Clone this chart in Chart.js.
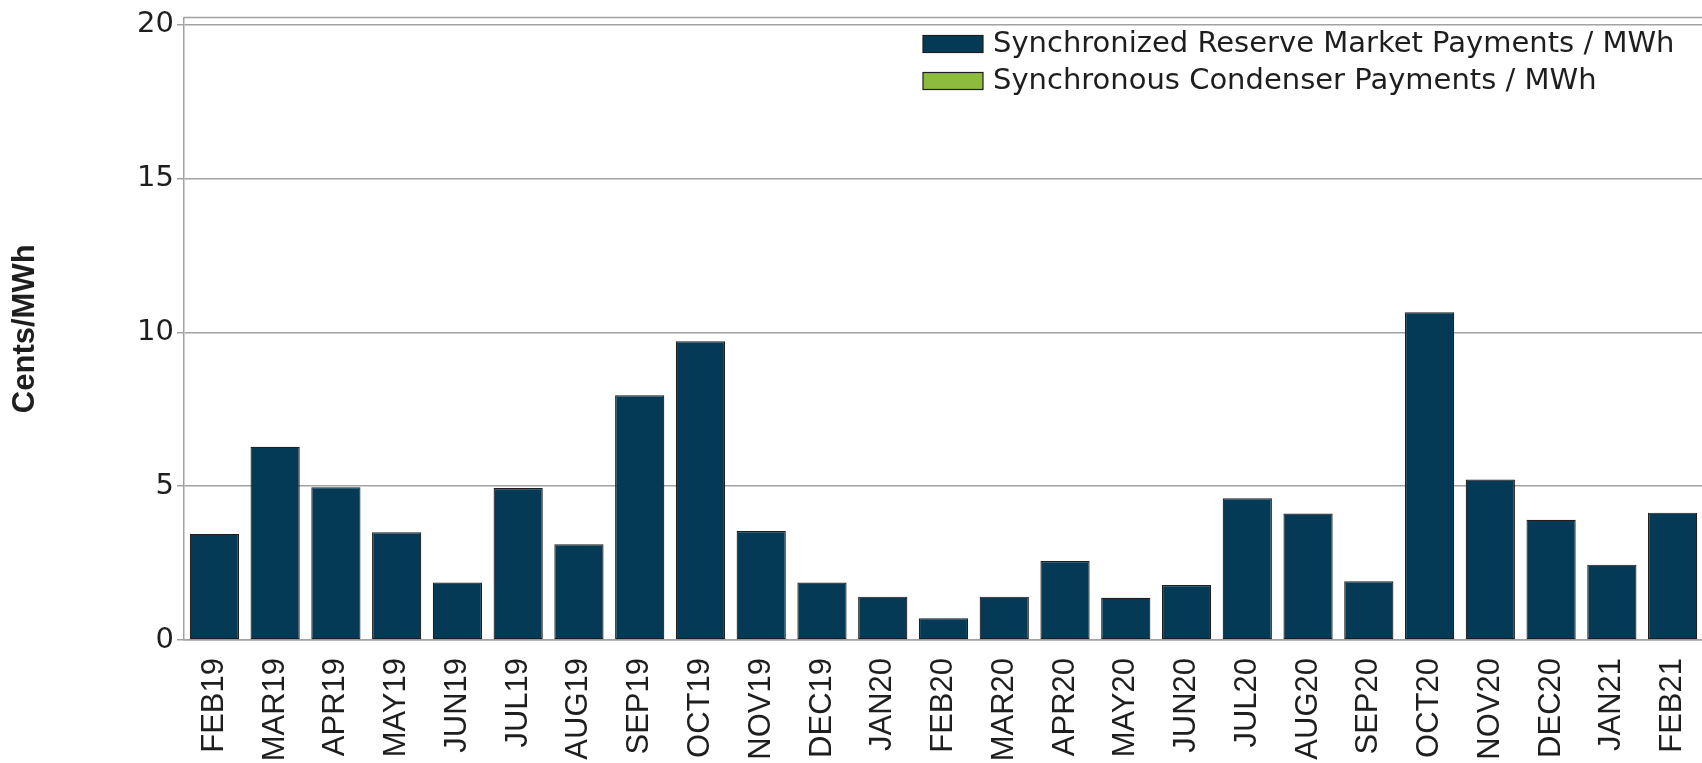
<!DOCTYPE html>
<html>
<head>
<meta charset="utf-8">
<title>Synchronized Reserve Payments per MWh</title>
<script src="https://cdn.jsdelivr.net/npm/chart.js@4.4.1/dist/chart.umd.min.js"></script>
<style>
  html, body { margin: 0; padding: 0; background: #ffffff; overflow: hidden; }
  #wrap { position: relative; width: 1704px; height: 763px; }
</style>
</head>
<body>
<div id="wrap"><canvas id="chart"></canvas></div>
<script>
// Monthly categories
const months = [
  'FEB19','MAR19','APR19','MAY19','JUN19','JUL19','AUG19','SEP19','OCT19','NOV19',
  'DEC19','JAN20','FEB20','MAR20','APR20','MAY20','JUN20','JUL20','AUG20','SEP20',
  'OCT20','NOV20','DEC20','JAN21','FEB21'
];

// Cents per MWh
const reserveMarketPayments = [
  3.45, 6.28, 4.97, 3.50, 1.87, 4.94, 3.11, 7.96, 9.71, 3.54,
  1.87, 1.41, 0.71, 1.41, 2.57, 1.37, 1.79, 4.61, 4.11, 1.91,
  10.66, 5.22, 3.91, 2.45, 4.14
];
const condenserPayments = [
  0, 0, 0, 0, 0, 0, 0, 0, 0, 0,
  0, 0, 0, 0, 0, 0, 0, 0, 0, 0,
  0, 0, 0, 0, 0
];

const yTicks = [0, 5, 10, 15, 20];
const seriesNames = ['Synchronized Reserve Market Payments / MWh', 'Synchronous Condenser Payments / MWh'];
const yTitle = 'Cents/MWh';

const GRID = '#a2a2a2';
const INK = '#1e1e1e';
const NAVY = '#053a56';
const GREEN = '#8dbb3e';

// Frame around the plot area (top edge; left and bottom come from the axes)
const framePlugin = {
  id: 'frame',
  beforeDatasetsDraw(chart) {
    const { ctx, chartArea: a } = chart;
    ctx.save();
    ctx.strokeStyle = GRID;
    ctx.lineWidth = 1.5;
    ctx.beginPath();
    ctx.moveTo(a.left, a.top);
    ctx.lineTo(a.right, a.top);
    ctx.stroke();
    ctx.restore();
  }
};

// Legend stacked in the upper right of the plot area
const boxLegendPlugin = {
  id: 'boxLegend',
  afterDraw(chart) {
    const { ctx, chartArea: a } = chart;
    const x0 = a.left + 739;
    const y0 = a.top + 26.5;
    const rowGap = 37;
    ctx.save();
    ctx.font = '29px "DejaVu Sans"';
    ctx.textBaseline = 'middle';
    ctx.textAlign = 'left';
    chart.data.datasets.forEach((ds, i) => {
      const cy = y0 + i * rowGap;
      ctx.fillStyle = ds.backgroundColor;
      ctx.fillRect(x0, cy - 8.5, 60, 17);
      ctx.strokeStyle = INK;
      ctx.lineWidth = 1.2;
      ctx.strokeRect(x0, cy - 8.5, 60, 17);
      ctx.fillStyle = INK;
      ctx.fillText(ds.label, x0 + 70, cy);
    });
    ctx.restore();
  }
};

new Chart(document.getElementById('chart'), {
  type: 'bar',
  data: {
    labels: months,
    datasets: [
      {
        label: seriesNames[0],
        data: reserveMarketPayments,
        backgroundColor: NAVY,
        borderColor: INK,
        borderWidth: 1.2,
        borderSkipped: false,
        barPercentage: 0.81,
        categoryPercentage: 1.0
      },
      {
        label: seriesNames[1],
        data: condenserPayments,
        backgroundColor: GREEN,
        borderColor: INK,
        borderWidth: 0,
        barPercentage: 0.81,
        categoryPercentage: 1.0
      }
    ]
  },
  options: {
    responsive: true,
    maintainAspectRatio: false,
    animation: false,
    layout: { padding: { top: 15, right: 1, bottom: 0, left: 0 } },
    plugins: {
      legend: { display: false },
      tooltip: { enabled: false }
    },
    scales: {
      x: {
        stacked: true,
        offset: true,
        grid: { display: false, drawTicks: false },
        border: { display: true, color: GRID, width: 1.5 },
        ticks: {
          autoSkip: false,
          minRotation: 90,
          maxRotation: 90,
          padding: 18,
          color: INK,
          font: { family: '"Liberation Sans", Arial, sans-serif', size: 31 }
        },
        afterFit(scale) {
          scale.height = 123;
          scale.paddingLeft = 0;
          scale.paddingRight = 0;
        }
      },
      y: {
        stacked: true,
        min: 0,
        max: 20.24,
        grid: { color: GRID, lineWidth: 1.5, drawTicks: true, tickLength: 7 },
        border: { display: true, color: GRID, width: 1.5 },
        afterBuildTicks(scale) { scale.ticks = yTicks.map(v => ({ value: v })); },
        ticks: {
          includeBounds: false,
          padding: 3,
          color: INK,
          font: { family: '"DejaVu Sans", sans-serif', size: 29, lineHeight: 1 }
        },
        title: {
          display: true,
          text: yTitle,
          color: INK,
          padding: { top: 7, bottom: 0 },
          font: { family: '"Liberation Sans", Arial, sans-serif', size: 31, weight: 'bold', lineHeight: 1.2 }
        },
        afterFit(scale) { scale.width = 184; }
      }
    }
  },
  plugins: [framePlugin, boxLegendPlugin]
});
</script>
</body>
</html>
